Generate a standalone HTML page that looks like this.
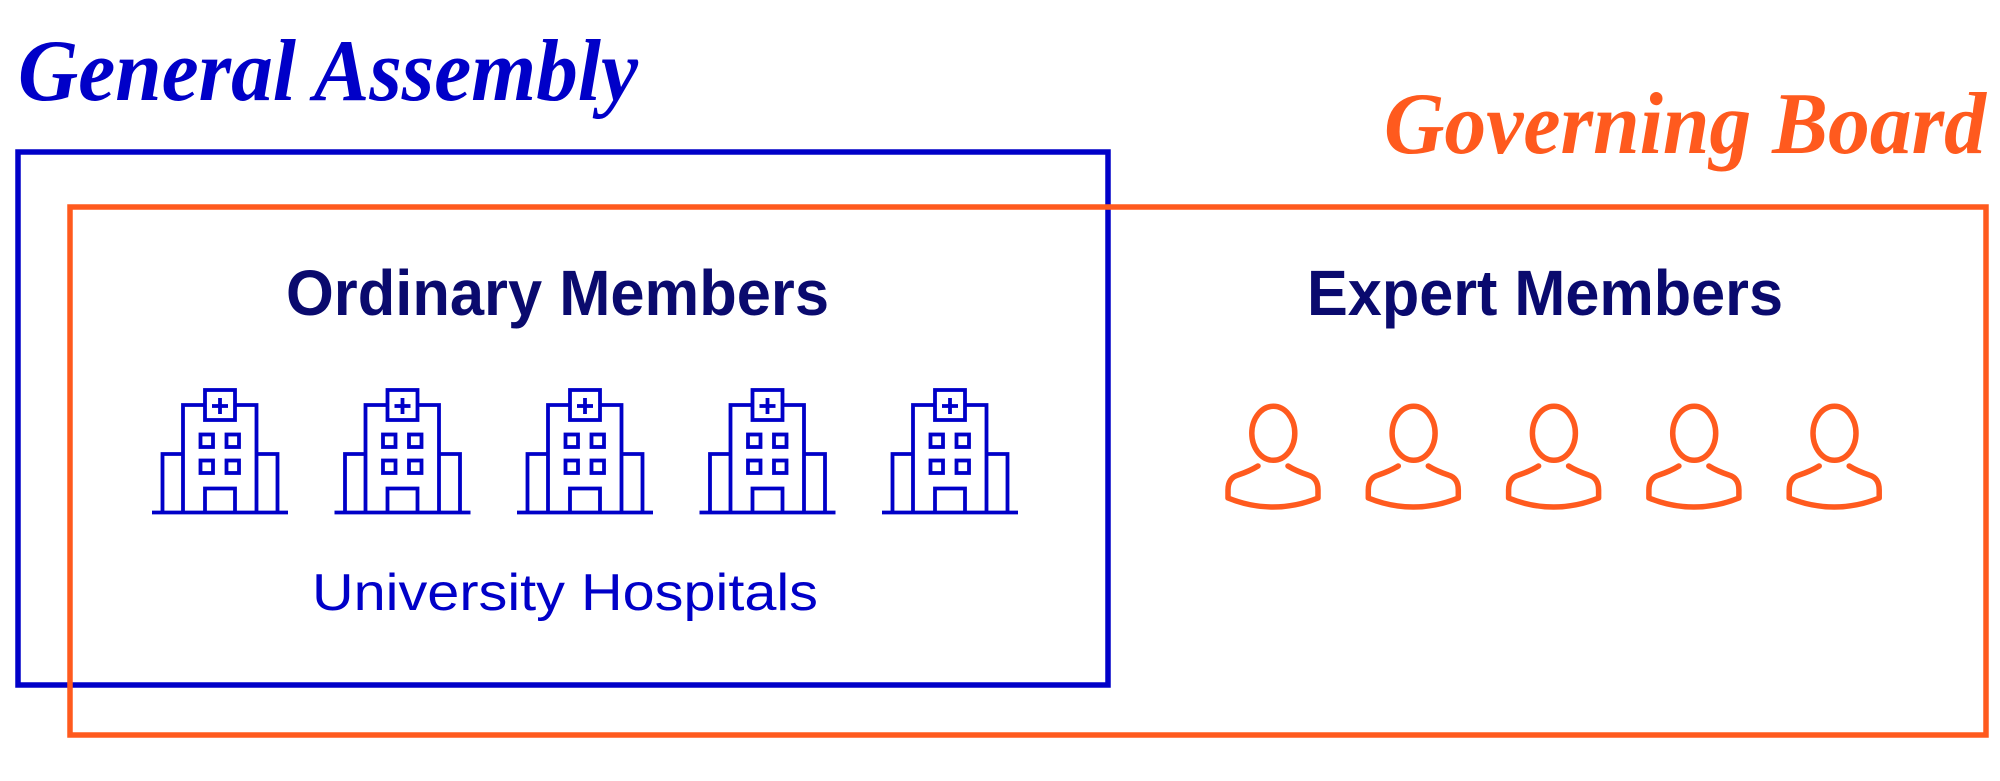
<!DOCTYPE html>
<html><head><style>html,body{margin:0;padding:0;background:#fff;}svg{display:block;}</style></head>
<body>
<svg width="2000" height="781" viewBox="0 0 2000 781" xmlns="http://www.w3.org/2000/svg">
<defs>
<g id="h" fill="none" stroke="#0000c8" stroke-width="3.8">
<line x1="12" y1="142.5" x2="148" y2="142.5"/>
<polyline points="22.5,142.5 22.5,84 43,84"/>
<polyline points="43,142.5 43,35 116.5,35 116.5,142.5"/>
<polyline points="116.5,84 137.5,84 137.5,142.5"/>
<rect x="65" y="20" width="30" height="30" fill="#fff"/>
<line x1="80" y1="28" x2="80" y2="44"/><line x1="72" y1="36" x2="88" y2="36"/>
<rect x="60.5" y="64.5" width="12.5" height="12.5"/><rect x="86.5" y="64.5" width="12.5" height="12.5"/>
<rect x="60.5" y="90.5" width="12.5" height="12.5"/><rect x="86.5" y="90.5" width="12.5" height="12.5"/>
<polyline points="65,142.5 65,118.5 95,118.5 95,142.5"/>
</g>
<g id="p" fill="none" stroke="#ff5a1e" stroke-width="5.5" stroke-linecap="round" stroke-linejoin="round">
<ellipse cx="73.3" cy="43.3" rx="21.5" ry="27"/>
<path d="M58 76 Q50 81 38 85 Q28 88 28 100 L28 108 Q50 117 73 117 Q96 117 118 108 L118 100 Q118 88 108 85 Q96 81 88 76"/>
</g>
</defs>
<rect x="18" y="152" width="1090" height="533" fill="none" stroke="#0000c8" stroke-width="5.5"/>
<rect x="70" y="207" width="1916" height="528" fill="none" stroke="#ff5a1e" stroke-width="5.5"/>
<text x="18" y="100" textLength="620" lengthAdjust="spacingAndGlyphs" font-family="Liberation Serif, serif" font-style="italic" font-weight="bold" font-size="88" fill="#0000c8">General Assembly</text>
<text x="1384" y="153" textLength="602" lengthAdjust="spacingAndGlyphs" font-family="Liberation Serif, serif" font-style="italic" font-weight="bold" font-size="88" fill="#ff5a1e">Governing Board</text>
<text x="286" y="315" textLength="543" lengthAdjust="spacingAndGlyphs" font-family="Liberation Sans, sans-serif" font-weight="bold" font-size="64" fill="#0a0a6e">Ordinary Members</text>
<text x="1307" y="315" textLength="476" lengthAdjust="spacingAndGlyphs" font-family="Liberation Sans, sans-serif" font-weight="bold" font-size="64" fill="#0a0a6e">Expert Members</text>
<text x="312" y="610" textLength="506" lengthAdjust="spacingAndGlyphs" font-family="Liberation Sans, sans-serif" font-size="52" fill="#0000c8">University Hospitals</text>
<use href="#h" x="140" y="370"/>
<use href="#h" x="322.5" y="370"/>
<use href="#h" x="505" y="370"/>
<use href="#h" x="687.5" y="370"/>
<use href="#h" x="870" y="370"/>
<use href="#p" x="1200" y="390"/>
<use href="#p" x="1340.3" y="390"/>
<use href="#p" x="1480.6" y="390"/>
<use href="#p" x="1620.9" y="390"/>
<use href="#p" x="1761.2" y="390"/>
</svg>
</body></html>
